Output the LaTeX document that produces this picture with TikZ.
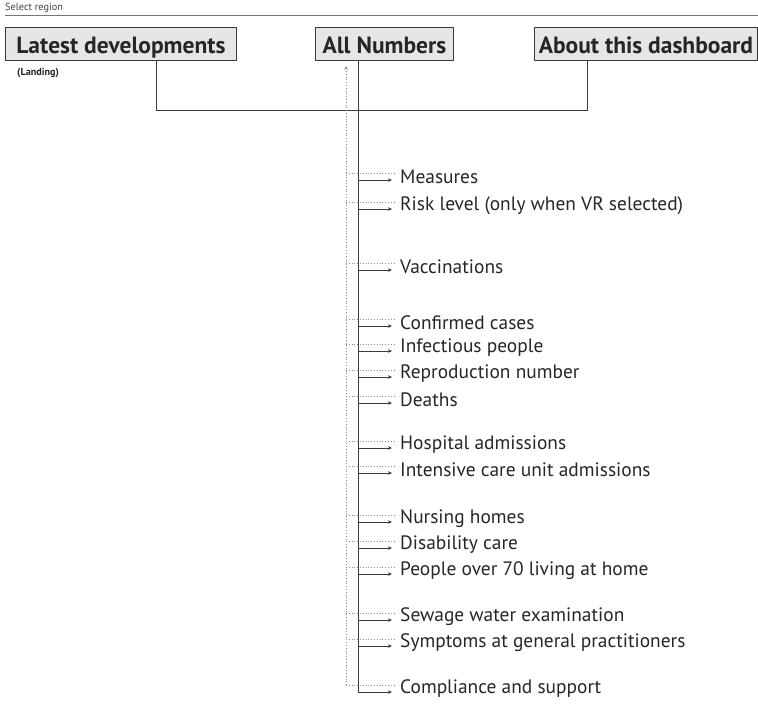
\documentclass[tikz,border=0pt]{standalone}
\usepackage{fontspec}
\setmainfont{PT Sans}
\usetikzlibrary{arrows.meta,positioning}
\definecolor{boxgray}{HTML}{E8E5E5}
\definecolor{linegray}{HTML}{3A3A3A}
\definecolor{dotgray}{HTML}{8A8A8A}
\tikzset{
 tab/.style={draw=linegray, fill=boxgray, line width=0.9pt, anchor=north west, font=\fontsize{23.5}{23.5}\selectfont\bfseries, text=black!85, minimum height=33pt, inner xsep=0pt, text height=19pt, text depth=0pt},
 item/.style={anchor=west, inner sep=0pt, font=\fontsize{19.4}{19.4}\selectfont, text=black!85},
 link/.style={linegray, line width=0.8pt},
 back/.style={dotgray, dotted, line width=0.8pt},
 >={Stealth[length=4pt,width=3.5pt]}
}
\begin{document}
\begin{tikzpicture}[x=1pt,y=-1pt]
\useasboundingbox (0,0) rectangle (758,705);
\node[anchor=west, inner sep=0pt, font=\fontsize{10.3}{10.3}\selectfont, text=black!75] (sel) at (5,8) {Select region};
\draw[linegray!70, line width=0.7pt] (5,15) -- (758,15);
% tabs
\node[tab, minimum width=231pt] (latest) at (5,27) {Latest developments};
\node[tab, minimum width=138pt] (all) at (315,27) {All Numbers};
\node[tab, minimum width=223pt] (about) at (534,27) {About this dashboard};
\node[anchor=west, inner sep=0pt, font=\fontsize{10.2}{10.2}\selectfont\bfseries, text=black!85] (landing) at (17,73) {(Landing)};
% connector between tabs
\coordinate (l0) at (156,60);
\coordinate (a0) at (587,60);
\coordinate (spine) at (358,60);
\draw[link] (l0) -- (156,110) -- (587,110) -- (a0);
% items
\foreach \y/\nm/\txt in {177/meas/Measures, 206/risk/Risk level (only when VR selected), 267/vacc/Vaccinations,
  323/conf/Confirmed cases, 348/infe/Infectious people, 374/repr/Reproduction number, 400/deat/Deaths,
  445/hosp/Hospital admissions, 470/icu/Intensive care unit admissions,
  519/nurs/Nursing homes, 545/disa/Disability care, 571/over/People over 70 living at home,
  617/sewa/Sewage water examination, 643/symp/Symptoms at general practitioners, 689/comp/Compliance and support} {
 \node[item] (\nm) at (400,\y) {\txt};
 \draw[back] (346,\y-4) -- (395,\y-4);
 \draw[link, ->] (358,\y+3) -- (392,\y+3);
}
\draw[link] (spine) -- (358,692);
\draw[back, ->] (346,685) -- (346,66);
\end{tikzpicture}
\end{document}
